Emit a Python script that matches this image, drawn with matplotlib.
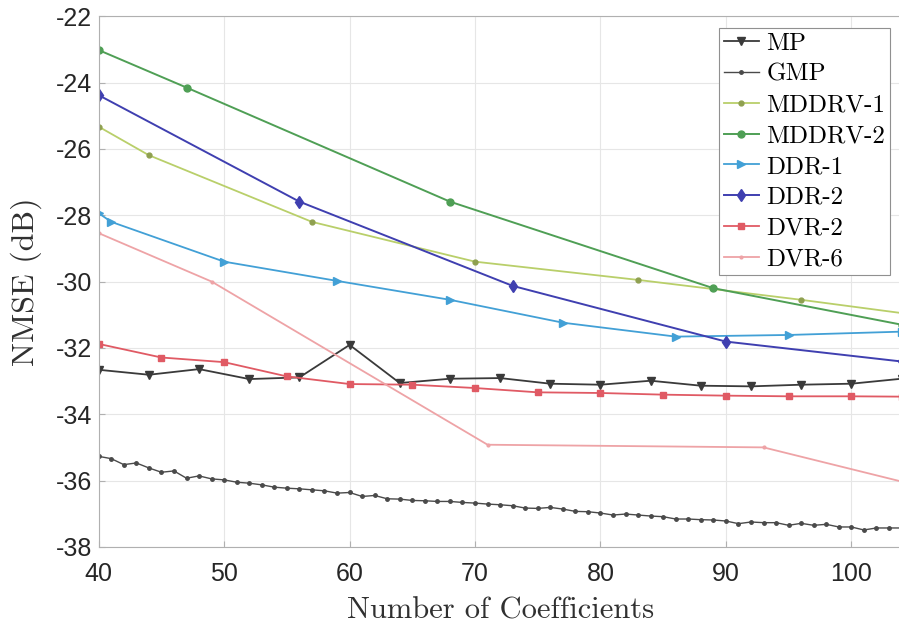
import numpy as np
import matplotlib
matplotlib.use('Agg')
import matplotlib.pyplot as plt

plt.rcParams['axes.unicode_minus'] = False

# Data
mp_x = [40, 44, 48, 52, 56, 60, 64, 68, 72, 76, 80, 84, 88, 92, 96, 100, 104]
mp_y = [-32.66, -32.81, -32.64, -32.94, -32.89, -31.91, -33.06, -32.93, -32.91,
        -33.08, -33.11, -32.99, -33.14, -33.16, -33.11, -33.08, -32.93]

gmp_x = list(range(40, 105))
gmp_y = [-35.27, -35.34, -35.52, -35.47, -35.62, -35.75, -35.71, -35.93, -35.86, -35.95,
         -35.98, -36.05, -36.08, -36.13, -36.20, -36.23, -36.25, -36.28, -36.31, -36.38,
         -36.36, -36.48, -36.45, -36.55, -36.56, -36.60, -36.61, -36.63, -36.63, -36.66,
         -36.68, -36.71, -36.73, -36.76, -36.83, -36.84, -36.81, -36.86, -36.93, -36.94,
         -36.98, -37.04, -37.01, -37.04, -37.07, -37.09, -37.16, -37.16, -37.18, -37.19,
         -37.22, -37.30, -37.25, -37.27, -37.27, -37.35, -37.29, -37.35, -37.32, -37.40,
         -37.40, -37.49, -37.43, -37.43, -37.43]

mddrv1_x = [40, 44, 57, 70, 83, 96, 104]
mddrv1_y = [-25.33, -26.19, -28.20, -29.40, -29.95, -30.55, -30.95]

mddrv2_x = [40, 47, 68, 89, 104]
mddrv2_y = [-23.02, -24.15, -27.59, -30.20, -31.30]

ddr1_x = [40, 41, 50, 59, 68, 77, 86, 95, 104]
ddr1_y = [-27.94, -28.20, -29.40, -29.98, -30.55, -31.24, -31.66, -31.61, -31.51]

ddr2_x = [40, 56, 73, 90, 104]
ddr2_y = [-24.38, -27.59, -30.13, -31.81, -32.41]

dvr2_x = [40, 45, 50, 55, 60, 65, 70, 75, 80, 85, 90, 95, 100, 104]
dvr2_y = [-31.88, -32.29, -32.43, -32.86, -33.09, -33.11, -33.21, -33.34, -33.36,
          -33.41, -33.44, -33.46, -33.46, -33.47]

dvr6_x = [40, 49, 71, 93, 104]
dvr6_y = [-28.54, -30.00, -34.92, -35.00, -36.03]

fig = plt.figure(figsize=(8.99, 6.25), dpi=100)
ax = fig.add_axes([0.1098, 0.125, 0.893, 0.849])

ax.plot(mp_x, mp_y, color='#3a3a3a', marker='v', ms=6, lw=1.3, label='MP')
ax.plot(gmp_x, gmp_y, color='#4a4a4a', marker='.', ms=5, lw=1.0, label='GMP')
ax.plot(mddrv1_x, mddrv1_y, color='#b9cf6a', marker='.', ms=7, lw=1.3, label='MDDRV-1',
        mec='#8fa050', mfc='#8fa050')
ax.plot(mddrv2_x, mddrv2_y, color='#4f9f55', marker='o', ms=5, lw=1.4, label='MDDRV-2')
ax.plot(ddr1_x, ddr1_y, color='#42a0d6', marker='>', ms=6, lw=1.3, label='DDR-1')
ax.plot(ddr2_x, ddr2_y, color='#3f3fb0', marker='d', ms=6, lw=1.4, label='DDR-2')
ax.plot(dvr2_x, dvr2_y, color='#e05a64', marker='s', ms=5, lw=1.3, label='DVR-2')
ax.plot(dvr6_x, dvr6_y, color='#eea3a6', marker='.', ms=4, lw=1.3, label='DVR-6')

ax.set_xlim(40, 104)
ax.set_ylim(-38, -22)
ax.set_xticks([40, 50, 60, 70, 80, 90, 100])
ax.set_yticks(np.arange(-38, -21, 2))
ax.grid(True, color='#e6e6e6', lw=0.8)
ax.set_axisbelow(True)
for s in ax.spines.values():
    s.set_color('#b0b0b0')
ax.tick_params(direction='in', length=4, color='#b0b0b0', labelsize=18,
               labelcolor='#262626')
ax.tick_params(axis='x', pad=11)
ax.tick_params(axis='y', pad=5)
for lab in ax.get_xticklabels() + ax.get_yticklabels():
    lab.set_family('Liberation Sans')

ax.set_xlabel('Number of Coefficients', family='cmr10', fontsize=22, color='#303030',
              labelpad=8)
ax.set_ylabel('NMSE (dB)', family='cmr10', fontsize=23, color='#303030', labelpad=10)

leg = ax.legend(loc='upper right', prop={'family': 'cmr10', 'size': 18},
                fancybox=False, edgecolor='#909090', framealpha=1,
                handlelength=1.4, handletextpad=0.3, labelspacing=0.33,
                borderpad=0.2, borderaxespad=0.45)
leg.get_frame().set_linewidth(0.8)

fig.savefig('out.png', dpi=100)
